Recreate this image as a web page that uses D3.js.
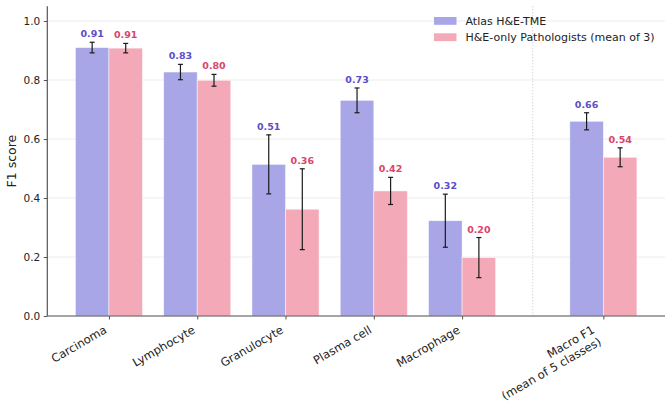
<!DOCTYPE html>
<html>
<head>
<meta charset="utf-8">
<script src="https://cdn.jsdelivr.net/npm/d3@7"></script>
<style>
  body { margin: 0; background: #fff; }
  text { font-family: "DejaVu Sans", sans-serif; }
</style>
</head>
<body>
<svg id="chart"></svg>
<script>
// categories and where they sit on the x axis (macro F1 is set apart)
const categories = ["Carcinoma", "Lymphocyte", "Granulocyte", "Plasma cell", "Macrophage", "Macro F1\n(mean of 5 classes)"];
const positions = [0, 1, 2, 3, 4, 5.6];
const separatorAt = 4.8;

const seriesNames = ["Atlas H&E-TME", "H&E-only Pathologists (mean of 3)"];
const atlasF1 = [0.910, 0.827, 0.514, 0.731, 0.323, 0.660];
const atlasErr = [0.018, 0.026, 0.100, 0.042, 0.090, 0.029];
const pathF1 = [0.908, 0.799, 0.362, 0.424, 0.198, 0.538];
const pathErr = [0.016, 0.020, 0.137, 0.046, 0.068, 0.032];

const yTicks = [0, 0.2, 0.4, 0.6, 0.8, 1.0];

const W = 672, H = 406;
const barW = 0.38;
const fills = ["#a8a6e6", "#f4a9b8"];
const labelColors = ["#5a4ec9", "#d9446c"];

const svg = d3.select("#chart").attr("width", W).attr("height", H);

// scales
const x = d3.scaleLinear().domain([-0.698, 6.298]).range([47.3, 665]);
const y = d3.scaleLinear().domain([0, 1.05]).range([316, 6.25]);

// grid lines behind the bars
svg.append("g").selectAll("line")
    .data(yTicks)
    .join("line")
    .attr("x1", x.range()[0]).attr("x2", x.range()[1])
    .attr("y1", d => y(d)).attr("y2", d => y(d))
    .style("stroke", "#ececec")
    .style("stroke-width", 1);

// dotted separator before macro F1
svg.append("line")
    .attr("x1", x(separatorAt)).attr("x2", x(separatorAt))
    .attr("y1", y(1.05)).attr("y2", y(0))
    .style("stroke", "#c8c8c8")
    .style("stroke-width", 1)
    .style("stroke-dasharray", "1,2");

// build one row per bar
const rows = [];
positions.forEach((p, i) => {
    rows.push({s: 0, x: p - barW / 2, v: atlasF1[i], e: atlasErr[i]});
    rows.push({s: 1, x: p + barW / 2, v: pathF1[i], e: pathErr[i]});
});

const barG = svg.append("g");
barG.selectAll("rect")
    .data(rows)
    .join("rect")
    .attr("x", d => x(d.x - barW / 2))
    .attr("width", d => x(d.x + barW / 2) - x(d.x - barW / 2))
    .attr("y", d => y(d.v))
    .attr("height", d => y(0) - y(d.v))
    .style("fill", d => fills[d.s])
    .style("stroke", "#fff")
    .style("stroke-opacity", 0.6)
    .style("stroke-width", 0.8);

// error bars
const errG = svg.append("g").style("stroke", "#1a1a1a").style("stroke-width", 1.2);
errG.selectAll(".err")
    .data(rows)
    .join("line")
    .attr("class", "err")
    .attr("x1", d => x(d.x)).attr("x2", d => x(d.x))
    .attr("y1", d => y(d.v - d.e)).attr("y2", d => y(d.v + d.e));
errG.selectAll(".capTop")
    .data(rows)
    .join("line")
    .attr("class", "capTop")
    .attr("x1", d => x(d.x) - 2.5).attr("x2", d => x(d.x) + 2.5)
    .attr("y1", d => y(d.v + d.e)).attr("y2", d => y(d.v + d.e));
errG.selectAll(".capBot")
    .data(rows)
    .join("line")
    .attr("class", "capBot")
    .attr("x1", d => x(d.x) - 2.5).attr("x2", d => x(d.x) + 2.5)
    .attr("y1", d => y(d.v - d.e)).attr("y2", d => y(d.v - d.e));

// value labels over the error bars
svg.append("g").selectAll("text")
    .data(rows)
    .join("text")
    .attr("x", d => x(d.x))
    .attr("y", d => y(d.v + d.e) - 5)
    .attr("text-anchor", "middle")
    .style("font-size", "9.5px")
    .style("font-weight", "bold")
    .style("fill", d => labelColors[d.s])
    .text(d => d.v.toFixed(2));

// y axis
const yAxis = d3.axisLeft(y).tickValues(yTicks).tickSize(3.5).tickPadding(3.5).tickFormat(d3.format(".1f"));
const yAxisG = svg.append("g")
    .attr("transform", `translate(${x.range()[0]},0)`)
    .call(yAxis);
yAxisG.select(".domain").attr("d", `M0,${y(1.05)}V${y(0)}`);
yAxisG.selectAll("text").style("font-size", "10.5px").style("font-family", "DejaVu Sans").style("fill", "#222");

// x axis: just the line and ticks, labels drawn by hand (rotated, multi-line)
const xAxis = d3.axisBottom(x).tickValues(positions).tickSize(3.5).tickFormat("");
const xAxisG = svg.append("g")
    .attr("transform", `translate(0,${y(0)})`)
    .call(xAxis);
xAxisG.select(".domain").attr("d", `M${x.range()[0]},0H${x.range()[1]}`);

[yAxisG, xAxisG].forEach(g => {
    g.select(".domain").style("stroke", "#555").style("stroke-width", 1.2);
    g.selectAll(".tick line").style("stroke", "#555").style("stroke-width", 1);
});

// rotated tick labels
const ang = 30, rad = ang * Math.PI / 180, lineH = 13.6;
categories.forEach((c, i) => {
    const lines = c.split("\n");
    const n = lines.length;
    const x0 = x(positions[i]) - 1.3 - (n - 1) * lineH * Math.sin(rad);
    const t = svg.append("text")
        .attr("transform", `translate(${x0},332.2) rotate(${-ang})`)
        .attr("text-anchor", "end")
        .style("font-size", "11.5px")
        .style("fill", "#222");
    lines.forEach((l, j) => {
        t.append("tspan").attr("x", 0).attr("dy", j === 0 ? 0 : lineH).text(l);
    });
});

// y axis title
svg.append("text")
    .attr("transform", `translate(16,${(y(0) + y(1.05)) / 2}) rotate(-90)`)
    .attr("text-anchor", "middle")
    .style("font-size", "12.5px")
    .style("fill", "#222")
    .text("F1 score");

// legend (no frame)
const legend = svg.append("g").attr("transform", "translate(434,17)");
seriesNames.forEach((name, i) => {
    legend.append("rect")
        .attr("x", 0).attr("y", i * 16.3)
        .attr("width", 22.5).attr("height", 7.8)
        .style("fill", fills[i]);
    legend.append("text")
        .attr("x", 31.5).attr("y", i * 16.3 + 8)
        .style("font-size", "11px")
        .style("fill", "#222")
        .text(name);
});
</script>
</body>
</html>
